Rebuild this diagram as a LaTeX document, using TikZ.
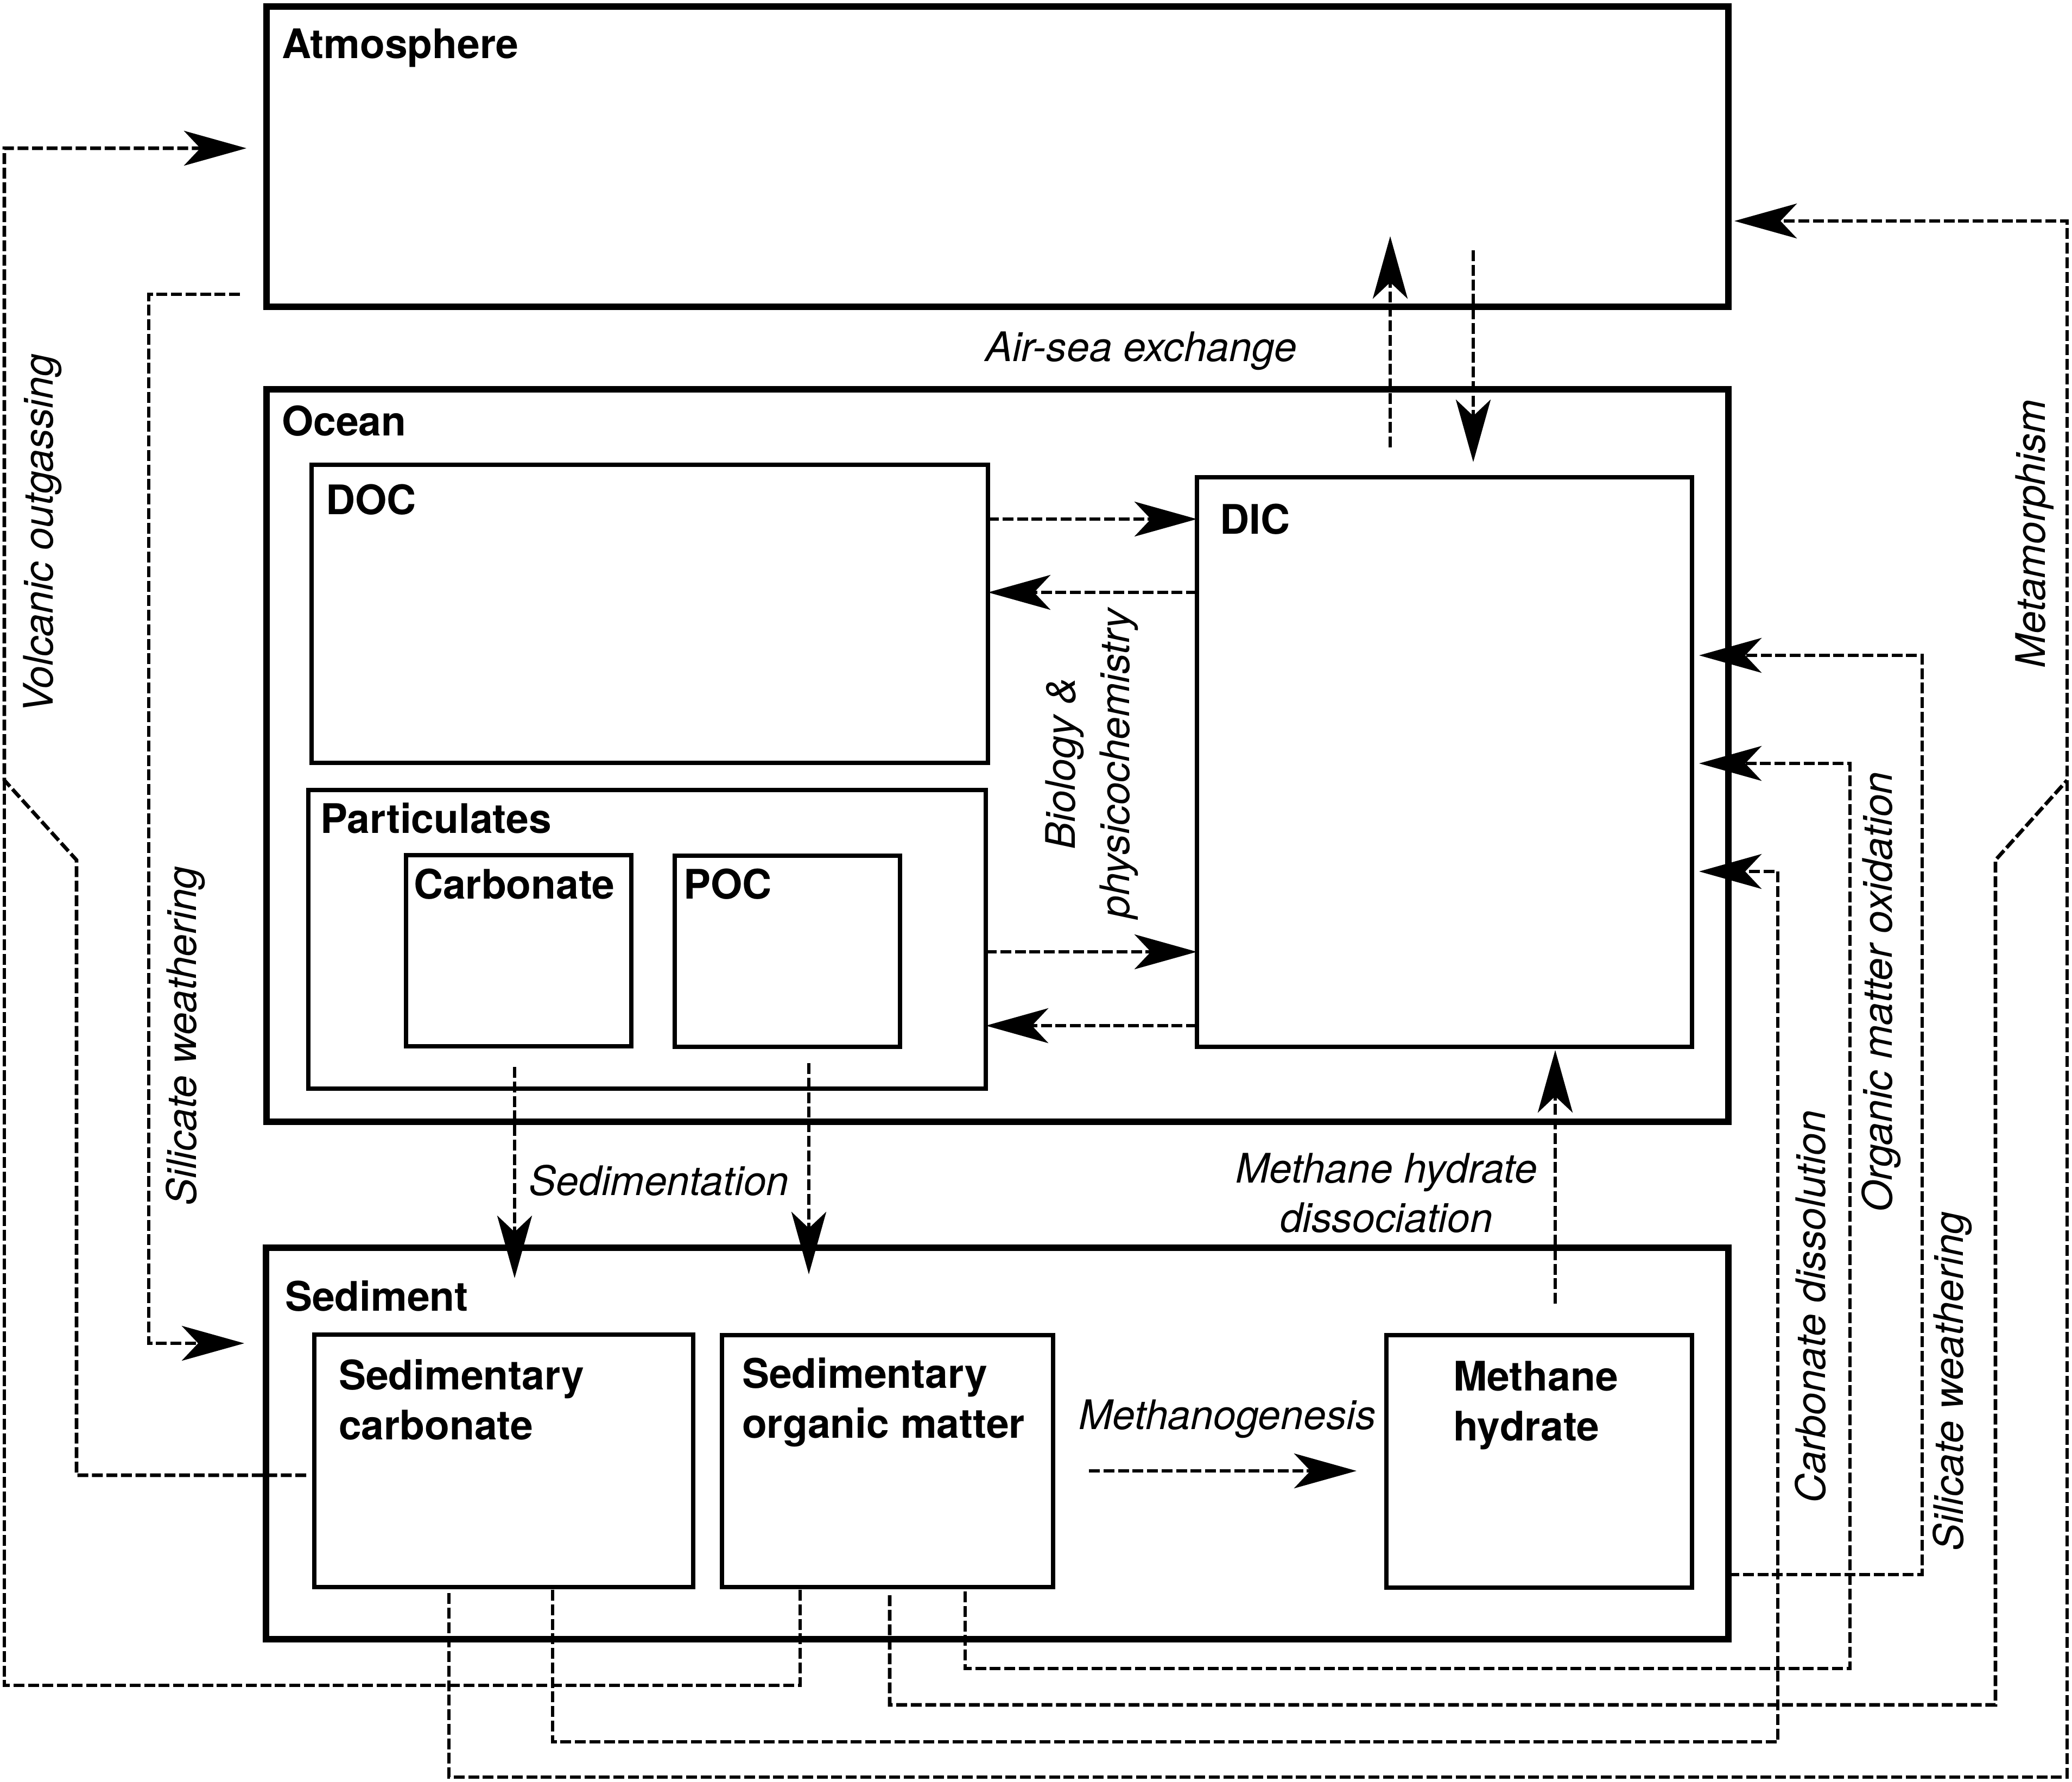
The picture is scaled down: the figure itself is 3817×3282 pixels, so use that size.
\documentclass[tikz,border=0pt]{standalone}
\usepackage{fontspec}
\setmainfont{TeX Gyre Heros}
\usetikzlibrary{arrows.meta,calc,fit}
\begin{document}
\begin{tikzpicture}[x=0.2pt,y=-0.2pt,
  thickbox/.style={draw, line width=2.5pt, inner sep=0pt, outer sep=0pt, rectangle},
  thinbox/.style={draw, line width=1.5pt, inner sep=0pt, outer sep=0pt, rectangle},
  lbl/.style={font=\fontsize{15}{18}\selectfont\bfseries, inner sep=0pt, anchor=base west},
  itl/.style={font=\fontsize{15}{18}\selectfont\itshape, inner sep=0pt},
  flow/.style={line width=1.35pt, dash pattern=on 4pt off 1.35pt},
  arr/.style={flow, -{Stealth[length=23pt,width=12.8pt,inset=6pt]}},
]
\useasboundingbox (0,0) rectangle (3817,3282);

% boxes
\node[thickbox, fit={(491,12) (3184,565)}] (atm) {};
\node[thickbox, fit={(491,717) (3184,2066)}] (ocean) {};
\node[thinbox, fit={(574,856) (1820,1405)}] (doc) {};
\node[thinbox, fit={(568,1455) (1816,2005)}] (part) {};
\node[thinbox, fit={(748,1575) (1163,1927)}] (carb) {};
\node[thinbox, fit={(1243,1576) (1658,1928)}] (poc) {};
\node[thinbox, fit={(2205,879) (3117,1928)}] (dic) {};
\node[thickbox, fit={(490,2298) (3184,3019)}] (sed) {};
\node[thinbox, fit={(579,2458) (1277,2923)}] (sedc) {};
\node[thinbox, fit={(1330,2459) (1940,2923)}] (sedom) {};
\node[thinbox, fit={(2554,2459) (3117,2924)}] (mh) {};

% bold labels
\node[lbl] (tatm) at (518,107) {Atmosphere};
\node[lbl] (tocean) at (518,802) {Ocean};
\node[lbl] (tdoc) at (599,947) {DOC};
\node[lbl] (tdic) at (2246,983) {DIC};
\node[lbl] (tpart) at (589,1534) {Particulates};
\node[lbl] (tcarb) at (761,1655) {Carbonate};
\node[lbl] (tpoc) at (1258,1655) {POC};
\node[lbl] (tsed) at (524,2414) {Sediment};
\node[lbl] (tsc1) at (623,2559) {Sedimentary};
\node[lbl] (tsc2) at (623,2651) {carbonate};
\node[lbl] (tso1) at (1366,2556) {Sedimentary};
\node[lbl] (tso2) at (1366,2648) {organic matter};
\node[lbl] (tmh1) at (2676,2561) {Methane};
\node[lbl] (tmh2) at (2676,2653) {hydrate};

% italic process labels
\node[itl, anchor=base] (lair) at (2102,665) {Air-sea exchange};
\node[itl, anchor=base] (lsedim) at (1214,2201) {Sedimentation};
\node[itl, anchor=base] (lmg) at (2261,2632) {Methanogenesis};
\node[itl, anchor=base] (lmhd1) at (2554,2178) {Methane hydrate};
\node[itl, anchor=base] (lmhd2) at (2554,2269) {dissociation};
\node[itl, rotate=90, anchor=base] (lbio1) at (1980,1406) {Biology \&};
\node[itl, rotate=90, anchor=base] (lbio2) at (2080,1406) {physicochemistry};
\node[itl, rotate=90] (lvolc) at (78,983) {Volcanic outgassing};
\node[itl, rotate=90] (lsil1) at (342,1908) {Silicate weathering};
\node[itl, rotate=90] (lmeta) at (3748,983) {Metamorphism};
\node[itl, rotate=90] (lomo) at (3466,1827) {Organic matter oxidation};
\node[itl, rotate=90, anchor=base] (lcd) at (3362,2407) {Carbonate dissolution};
\node[itl, rotate=90] (lsil2) at (3597,2544) {Silicate weathering};

% volcanic outgassing
\draw[arr] ($(sedc.west|-0,2717)+(-15,0)$) -| (141,1584) -- (8,1437) |- ($(atm.west|-0,273)+(-37,0)$);
\draw[flow] ($(1474,0|-sedom.south)+(0,5)$) |- (8,3104) -- (8,1437);
% silicate weathering (left)
\draw[arr] ($(atm.west|-0,542)+(-49,0)$) -| (274,2474) -- ($(sed.west|-0,2474)+(-40,0)$);
% metamorphism
\draw[arr] ($(827,0|-sedc.south)+(0,11)$) |- (3808,3273) |- ($(atm.east|-0,407)+(11,0)$);
\draw[flow] ($(1639,0|-sedom.south)+(0,15)$) |- (3676,3140) -- (3676,1584) -- (3808,1437);
% carbonate dissolution
\draw[arr] ($(1018,0|-sedc.south)+(0,5)$) |- (3275,3208) |- ($(dic.east|-0,1605)+(13,0)$);
% organic matter oxidation
\draw[arr] ($(1778,0|-sedom.south)+(0,8)$) |- (3408,3073) |- ($(dic.east|-0,1406)+(13,0)$);
% silicate weathering (right)
\draw[arr] (sed.east|-0,2900) -| (3541,1207) -- ($(dic.east|-0,1207)+(13,0)$);
% air-sea exchange
\draw[arr] ($(2561,0|-ocean.north)+(0,107)$) -- ($(2561,0|-atm.south)+(0,-130)$);
\draw[arr] ($(2714,0|-atm.south)+(0,-104)$) -- ($(2714,0|-dic.north)+(0,-28)$);
% biology & physicochemistry
\draw[arr] (doc.east|-0,956) -- (dic.west|-0,956);
\draw[arr] (dic.west|-0,1091) -- (doc.east|-0,1091);
\draw[arr] (part.east|-0,1753) -- (dic.west|-0,1753);
\draw[arr] (dic.west|-0,1889) -- (part.east|-0,1889);
% sedimentation
\draw[arr] ($(948,0|-carb.south)+(0,38)$) -- ($(948,0|-sed.north)+(0,56)$);
\draw[arr] ($(1490,0|-poc.south)+(0,30)$) -- ($(1490,0|-sed.north)+(0,49)$);
% methanogenesis
\draw[arr] ($(sedom.east|-0,2709)+(66,0)$) -- ($(mh.west|-0,2709)+(-55,0)$);
% methane hydrate dissociation
\draw[arr] ($(2865,0|-mh.north)+(0,-58)$) -- ($(2865,0|-dic.south)+(0,6)$);
\end{tikzpicture}
\end{document}
